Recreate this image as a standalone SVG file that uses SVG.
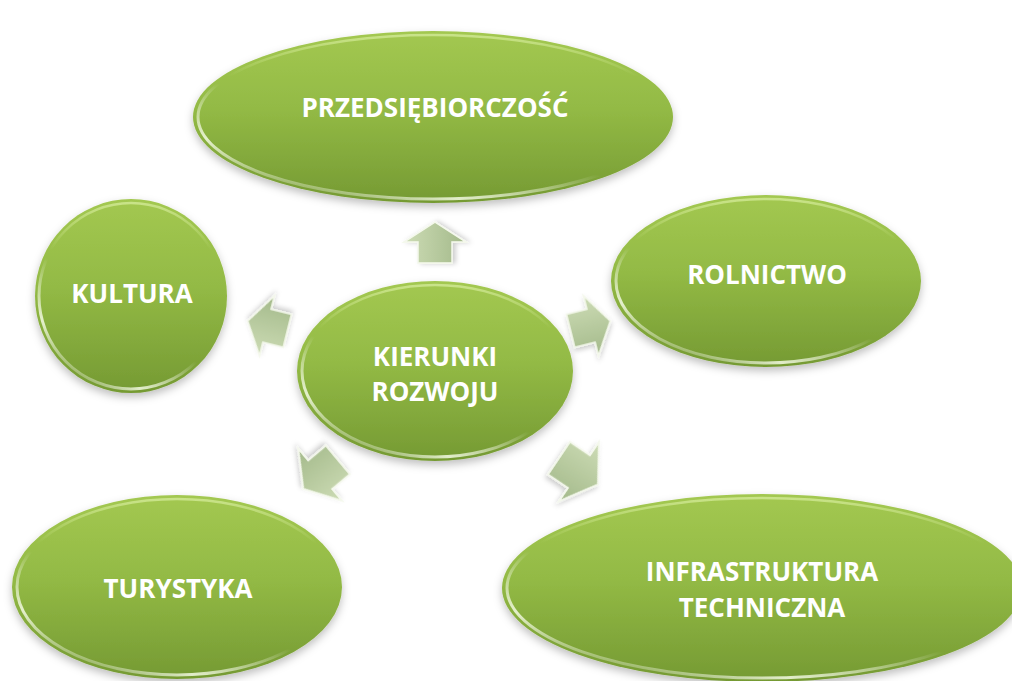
<svg xmlns="http://www.w3.org/2000/svg" width="1012" height="681" viewBox="0 0 1012 681">
<style>
.node-shape{fill:url(#gFill);filter:url(#shadow)}
.node-rim{fill:none;stroke:url(#gRim);stroke-width:3}
.node-top{fill:none;stroke:url(#gTop);stroke-width:2.5}
.lbl{font-family:"Open Sans","Liberation Sans",sans-serif;font-weight:bold;font-size:26px;fill:#ffffff;text-anchor:middle}
.arrow{fill:url(#gArrow);stroke:#f4f8ec;stroke-width:1.6;stroke-linejoin:miter;filter:url(#ashadow)}
</style>
<defs>
<linearGradient id="gFill" x1="0" y1="0" x2="0" y2="1">
<stop offset="0" stop-color="#a3c851"/>
<stop offset="0.45" stop-color="#93ba45"/>
<stop offset="1" stop-color="#759a33"/>
</linearGradient>
<linearGradient id="gRim" x1="0.7" y1="0.1" x2="0.15" y2="0.9">
<stop offset="0" stop-color="#ffffff" stop-opacity="0"/>
<stop offset="0.55" stop-color="#ffffff" stop-opacity="0"/>
<stop offset="0.85" stop-color="#f4fbe4" stop-opacity="0.85"/>
<stop offset="1" stop-color="#ffffff" stop-opacity="0.2"/>
</linearGradient>
<linearGradient id="gTop" x1="0" y1="0" x2="0" y2="1">
<stop offset="0" stop-color="#cde68f" stop-opacity="0.9"/>
<stop offset="0.25" stop-color="#cde68f" stop-opacity="0"/>
<stop offset="1" stop-color="#cde68f" stop-opacity="0"/>
</linearGradient>
<linearGradient id="gArrow" x1="0" y1="0" x2="0" y2="1">
<stop offset="0" stop-color="#cddcb5"/>
<stop offset="1" stop-color="#a3b98a"/>
</linearGradient>
<filter id="shadow" x="-10%" y="-10%" width="120%" height="130%">
<feDropShadow dx="0" dy="4" stdDeviation="4" flood-color="#000000" flood-opacity="0.25"/>
</filter>
<filter id="ashadow" x="-30%" y="-30%" width="160%" height="160%">
<feDropShadow dx="0" dy="3" stdDeviation="2.5" flood-color="#000000" flood-opacity="0.2"/>
</filter>
</defs>
<rect width="1012" height="681" fill="#ffffff"/>
<g id="connectors">
<polygon class="arrow" points="-20,-17 1,-17 1,-31 21,0 1,31 1,17 -20,17" transform="translate(435,243) rotate(-90)"/>
<polygon class="arrow" points="-20,-17 1,-17 1,-31 21,0 1,31 1,17 -20,17" transform="translate(590,326) rotate(-14)"/>
<polygon class="arrow" points="-20,-17 1,-17 1,-31 21,0 1,31 1,17 -20,17" transform="translate(268,326) rotate(194)"/>
<polygon class="arrow" points="-20,-17 1,-17 1,-31 21,0 1,31 1,17 -20,17" transform="translate(321,474) rotate(140) scale(1.1)"/>
<polygon class="arrow" points="-20,-17 1,-17 1,-31 21,0 1,31 1,17 -20,17" transform="translate(578,471) rotate(34) scale(1.15)"/>
</g>
<g id="node-przedsiebiorczosc">
<ellipse class="node-shape" cx="433" cy="117" rx="240" ry="86"/>
<ellipse class="node-top" cx="433" cy="118" rx="236" ry="83"/>
<ellipse class="node-rim" cx="433" cy="117" rx="235" ry="82"/>
<text class="lbl" x="435" y="117">PRZEDSIĘBIORCZOŚĆ</text>
</g>
<g id="node-kultura">
<ellipse class="node-shape" cx="131" cy="296" rx="96" ry="97"/>
<ellipse class="node-top" cx="131" cy="297" rx="93" ry="94"/>
<ellipse class="node-rim" cx="131" cy="296" rx="92" ry="93"/>
<text class="lbl" x="132" y="303">KULTURA</text>
</g>
<g id="node-rolnictwo">
<ellipse class="node-shape" cx="766" cy="281" rx="155" ry="86"/>
<ellipse class="node-top" cx="766" cy="282" rx="151" ry="83"/>
<ellipse class="node-rim" cx="766" cy="281" rx="150" ry="82"/>
<text class="lbl" x="767" y="284">ROLNICTWO</text>
</g>
<g id="node-kierunki">
<ellipse class="node-shape" cx="435" cy="371" rx="138" ry="90"/>
<ellipse class="node-top" cx="435" cy="372" rx="134" ry="87"/>
<ellipse class="node-rim" cx="435" cy="371" rx="133" ry="86"/>
<text class="lbl" x="435" y="366">KIERUNKI</text>
<text class="lbl" x="435" y="401">ROZWOJU</text>
</g>
<g id="node-turystyka">
<ellipse class="node-shape" cx="177" cy="587" rx="165" ry="92"/>
<ellipse class="node-top" cx="177" cy="588" rx="161" ry="89"/>
<ellipse class="node-rim" cx="177" cy="587" rx="160" ry="88"/>
<text class="lbl" x="178" y="598">TURYSTYKA</text>
</g>
<g id="node-infrastruktura">
<ellipse class="node-shape" cx="762" cy="588" rx="260" ry="94"/>
<ellipse class="node-top" cx="762" cy="589" rx="256" ry="91"/>
<ellipse class="node-rim" cx="762" cy="588" rx="255" ry="90"/>
<text class="lbl" x="762" y="581">INFRASTRUKTURA</text>
<text class="lbl" x="762" y="617">TECHNICZNA</text>
</g>
</svg>
